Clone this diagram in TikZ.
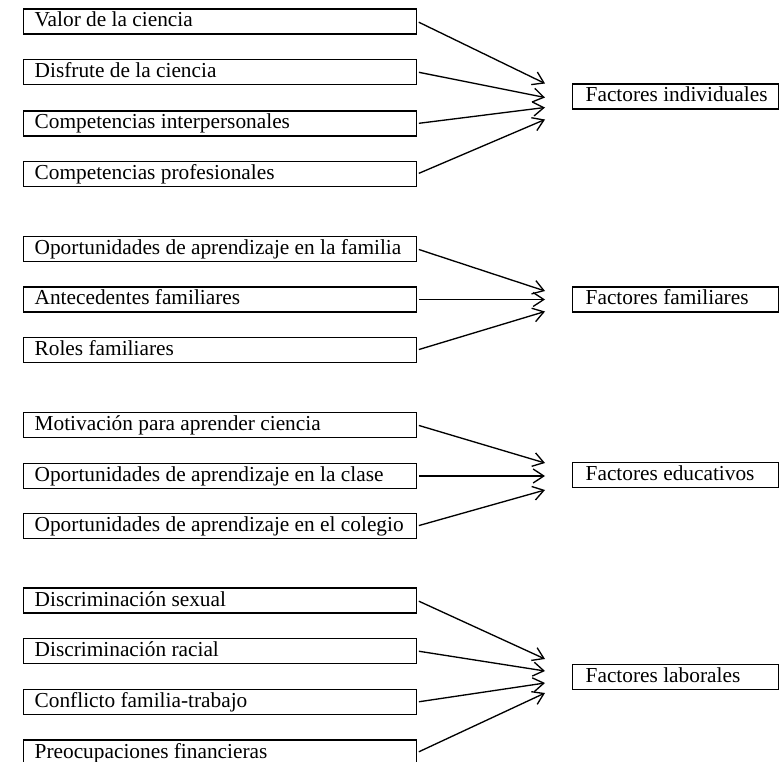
\documentclass[tikz,border=0pt]{standalone}
\usepackage{fontspec}
\setmainfont{Liberation Serif}
\usetikzlibrary{arrows.meta}
\newcommand{\izq}[1]{\makebox[278.25pt][l]{#1}}
\newcommand{\der}[1]{\makebox[135pt][l]{#1}}
\tikzset{
  causa/.style={draw, line width=1pt, anchor=west, inner xsep=8.25pt, inner ysep=0pt,
                text height=13.5pt, text depth=5.25pt, font=\fontsize{16}{19}\selectfont},
  factor/.style={causa, inner xsep=9.75pt},
  flecha/.style={-{Straight Barb[length=8pt,width=10.5pt]}, line width=1pt, shorten <=1.2pt},
}
\begin{document}
\begin{tikzpicture}[x=0.75pt, y=-0.75pt]
\useasboundingbox (0,0) rectangle (781,762);
\clip (0,0) rectangle (781,762);
\foreach \n/\y/\t in {i1/21.5/Valor de la ciencia, i2/72/Disfrute de la ciencia,
    i3/123.5/Competencias interpersonales, i4/174/Competencias profesionales,
    f1/249/Oportunidades de aprendizaje en la familia, f2/299.5/Antecedentes familiares,
    f3/350/Roles familiares,
    e1/425/Motivación para aprender ciencia, e2/476/Oportunidades de aprendizaje en la clase,
    e3/526/Oportunidades de aprendizaje en el colegio,
    l1/600.5/Discriminación sexual, l2/651/Discriminación racial,
    l3/702/Conflicto familia-trabajo, l4/752.5/Preocupaciones financieras}
  {\node[causa] (\n) at (23,\y) {\izq{\t}};}
\foreach \n/\y/\t in {fi/96.5/Factores individuales, ff/299.5/Factores familiares,
    fe/475/Factores educativos, fl/677/Factores laborales}
  {\node[factor] (\n) at (572,\y) {\der{\t}};}
\foreach \a/\b/\d in {i1/fi/-13, i2/fi/1, i3/fi/11, i4/fi/23,
    f1/ff/-8.5, f2/ff/0, f3/ff/12,
    e1/fe/-12, e2/fe/1, e3/fe/15,
    l1/fl/-18, l2/fl/-6, l3/fl/6, l4/fl/16}
  {\path (\b.west) ++(-27,\d) coordinate (\a-tip);
   \draw[flecha] (\a.east) -- (\a-tip);}
\end{tikzpicture}
\end{document}
